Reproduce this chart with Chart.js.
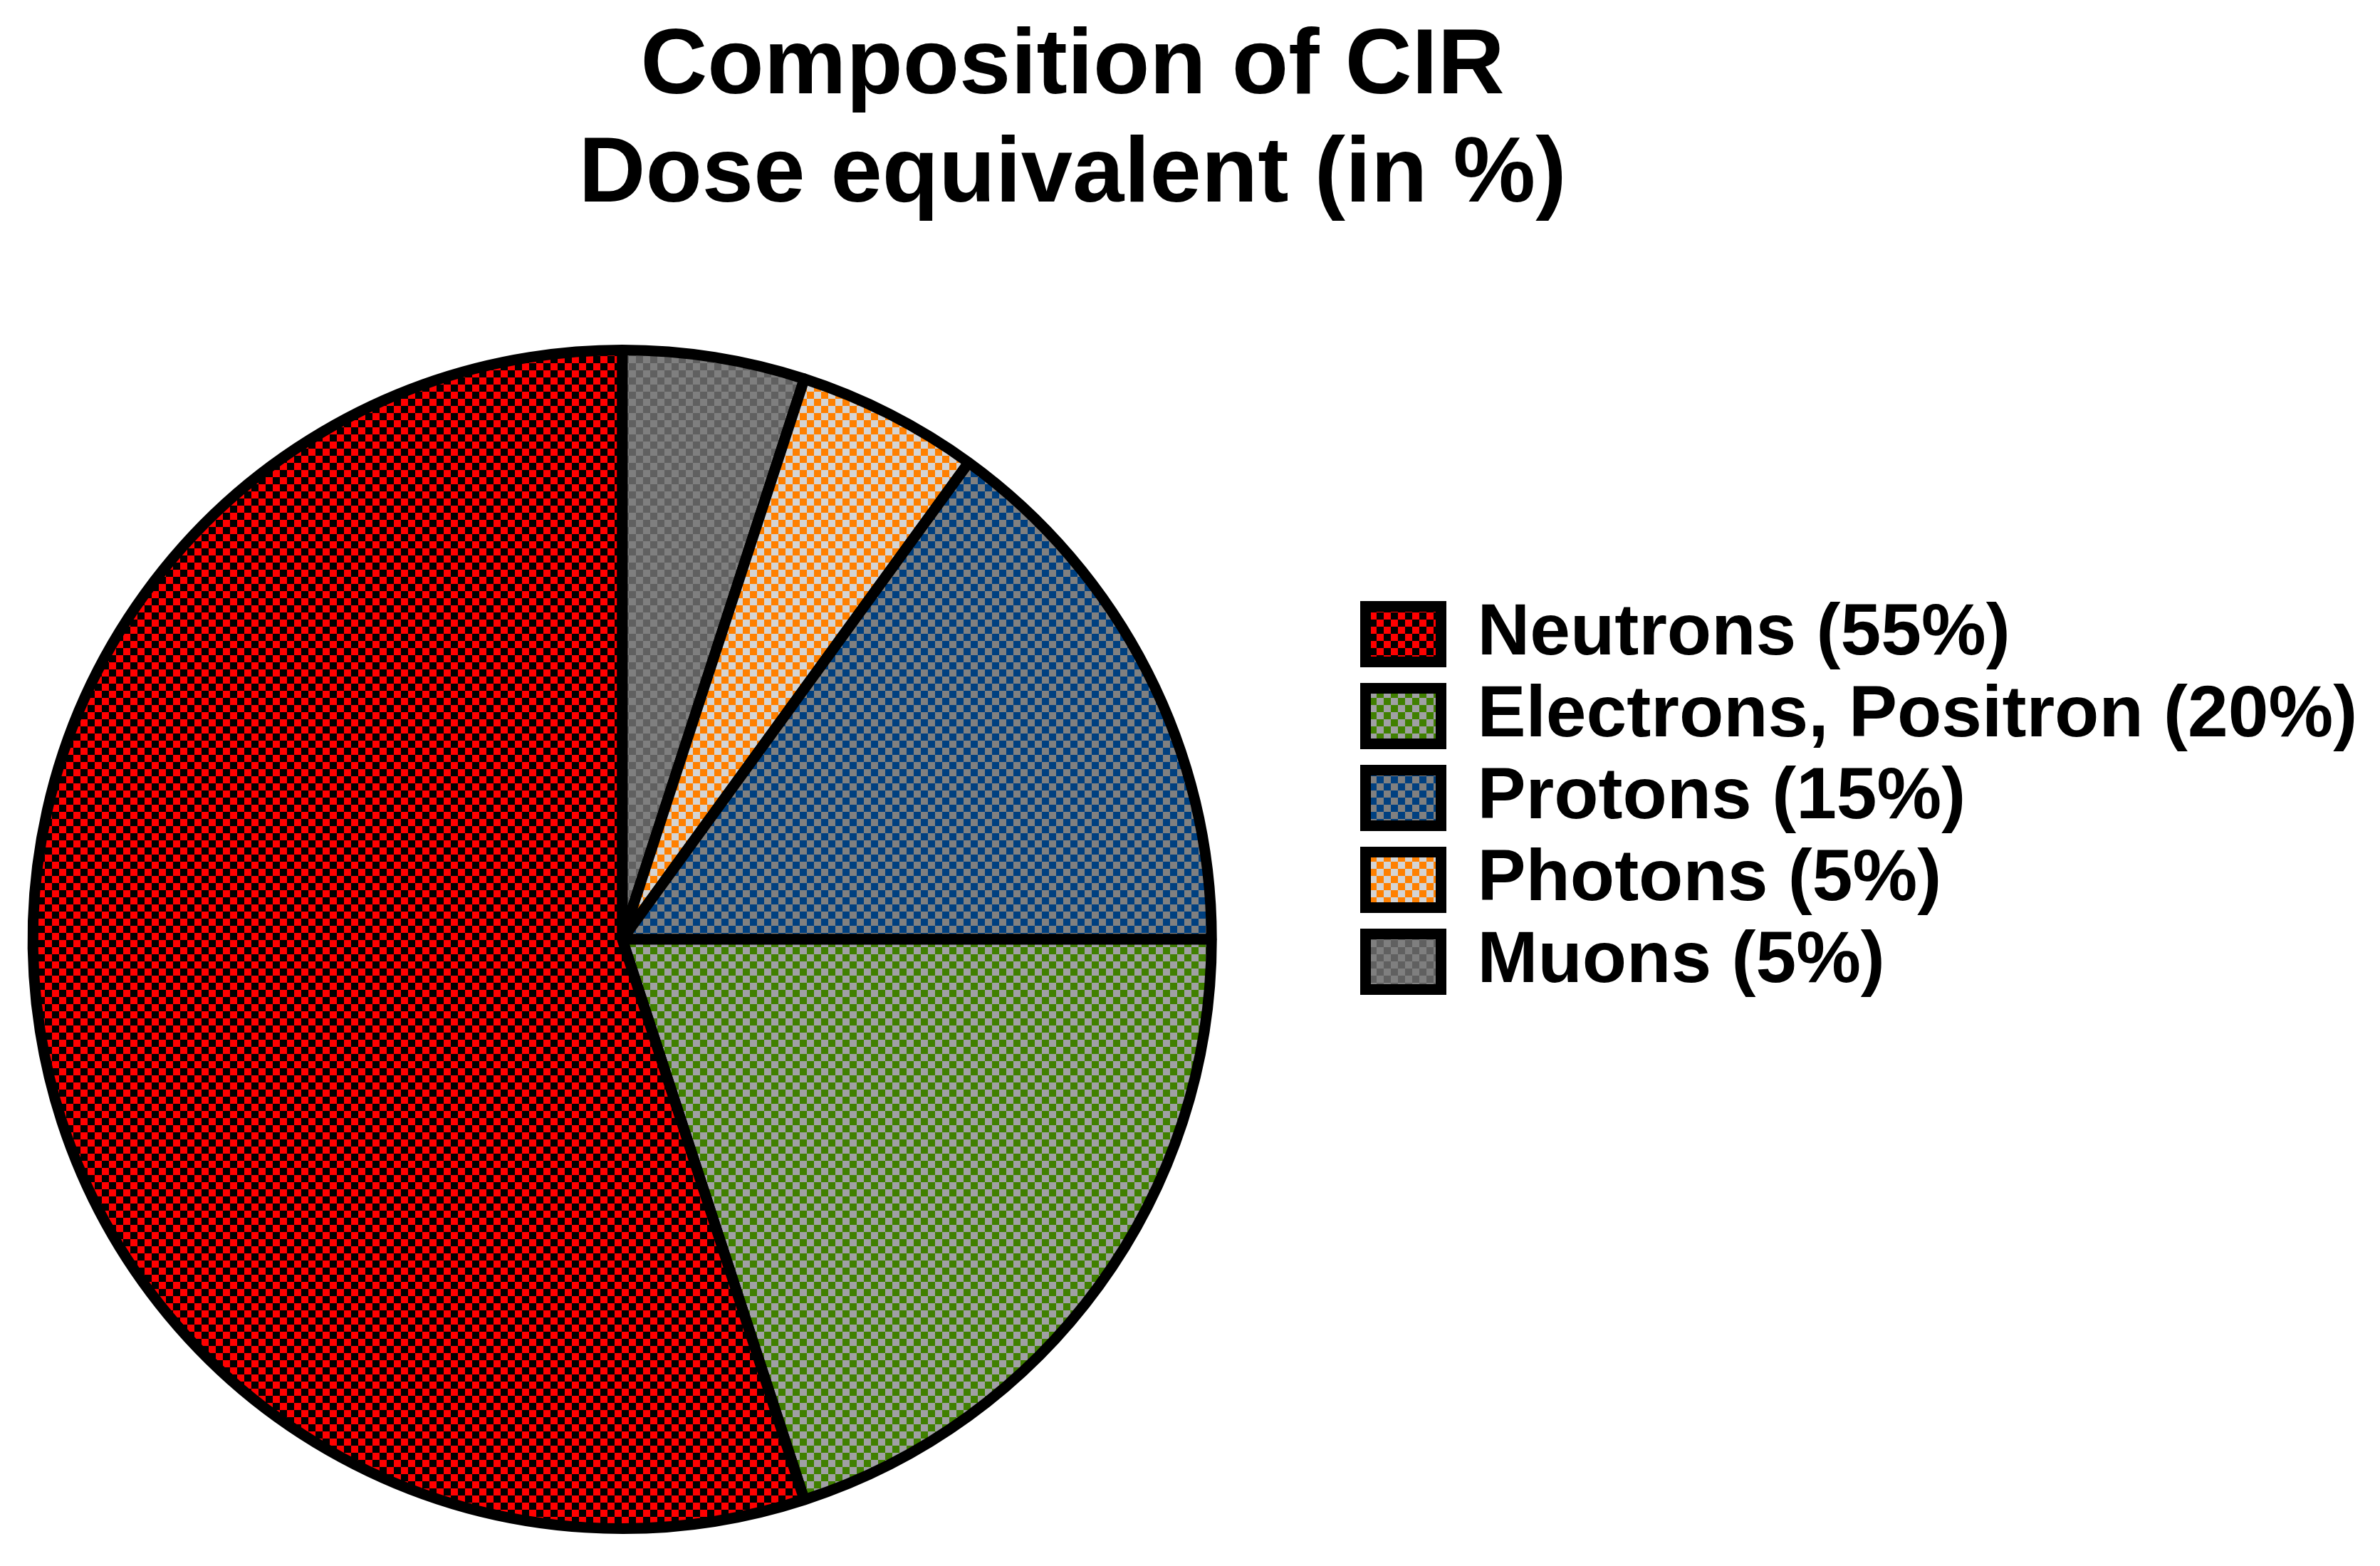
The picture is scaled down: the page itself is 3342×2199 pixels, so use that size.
<!DOCTYPE html>
<html>
<head>
<meta charset="utf-8">
<script src="https://cdn.jsdelivr.net/npm/chart.js@4/dist/chart.umd.min.js"></script>
<style>
  html, body {
    margin: 0;
    padding: 0;
    background: #ffffff;
    width: 3342px;
    height: 2199px;
    overflow: hidden;
    position: relative;
  }
  /* canvas sticks out on the left so the pie can sit left of the legend gap */
  #myChart { position: absolute; left: -157px; top: 0; display: block; }
  #title {
    position: absolute;
    left: 0;
    top: 10px;
    width: 3012px;
    text-align: center;
    font: bold 130px/152px "Liberation Sans", Arial, sans-serif;
    color: #000000;
  }
</style>
</head>
<body>
<canvas id="myChart" width="3499" height="2199"></canvas>
<div id="title"></div>
<script>
// pie runs clockwise from 12 o'clock, legend is shown reversed
const labels = [
  "Muons (5%)",
  "Photons (5%)",
  "Protons (15%)",
  "Electrons, Positron (20%)",
  "Neutrons (55%)",
];
const values = [5, 5, 15, 20, 55];
const fgColors = ["#7f7f7f", "#ff8000", "#004080", "#408000", "#ff0000"];
const bgColors = ["#606060", "#d4d4d4", "#808080", "#a0a0a4", "#000000"];
const titleLines = ["Composition of CIR", "Dose equivalent (in %)"];

document.getElementById("title").innerHTML = titleLines.join("<br>");

// checkerboard fill like the old dithered export
function checker(fg, bg) {
  const c = document.createElement("canvas");
  c.width = 20;
  c.height = 20;
  const g = c.getContext("2d");
  g.fillStyle = bg;
  g.fillRect(0, 0, 20, 20);
  g.fillStyle = fg;
  g.fillRect(0, 0, 10, 10);
  g.fillRect(10, 10, 10, 10);
  return g.createPattern(c, "repeat");
}

const patterns = fgColors.map((fg, i) => checker(fg, bgColors[i]));
const font = "'Liberation Sans', Arial, sans-serif";
const legendSize = 102;
const boxW = 106;
const itemGap = 13;

// legend width follows its longest label, so work out right padding from it
const measure = document.createElement("canvas").getContext("2d");
measure.font = "bold " + legendSize + "px " + font;
const longest = Math.max(...labels.map((t) => measure.measureText(t).width));
const legendLeft = 2061.5;
const legendWidth = itemGap + boxW + legendSize / 2 + longest + 10;
const padRight = 3499 - legendLeft - legendWidth;

new Chart("myChart", {
  type: "pie",
  data: {
    labels: labels,
    datasets: [
      {
        data: values,
        backgroundColor: patterns,
        borderColor: "#000000",
        borderWidth: 15,
        hoverBorderWidth: 15,
        hoverOffset: 0,
      },
    ],
  },
  options: {
    responsive: false,
    animation: false,
    events: [],
    layout: {
      padding: { left: 0, right: padRight, top: 484, bottom: 45 },
    },
    plugins: {
      tooltip: { enabled: false },
      title: { display: false },
      legend: {
        position: "right",
        align: "start",
        reverse: true,
        title: {
          display: true,
          text: "",
          font: { size: 10, lineHeight: 1.2 },
          padding: { top: 330.5, bottom: 0 },
        },
        labels: {
          color: "#000000",
          font: { family: font, size: legendSize, weight: "bold" },
          boxWidth: boxW,
          boxHeight: 78,
          padding: itemGap,
        },
      },
    },
  },
});
</script>
</body>
</html>
